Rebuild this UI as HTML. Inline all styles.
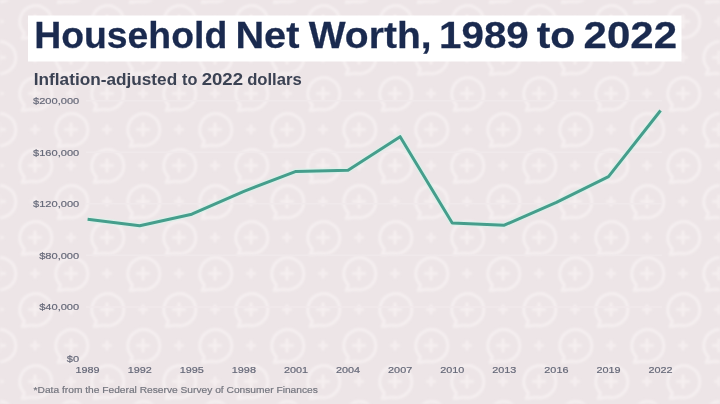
<!DOCTYPE html>
<html><head><meta charset="utf-8">
<style>
html,body{margin:0;padding:0;}
body{width:720px;height:404px;overflow:hidden;background:#ede5e7;}
svg{position:absolute;left:0;top:0;will-change:transform;font-family:"Liberation Sans",sans-serif;}
</style></head><body>
<svg width="720" height="404" viewBox="0 0 720 404">
<defs>
  <filter id="blur" x="-5%" y="-5%" width="110%" height="110%"><feGaussianBlur stdDeviation="1.3"/></filter>
  <g id="bub" fill="none" stroke="#f5eff0" stroke-width="3">
    <path d="M-10.5,11.5 A16,16 0 1 1 -3,15.7 L-13,17 Z" stroke-linejoin="round"/>
    <path d="M0,-7 V7 M-7,0 H7" stroke-width="3"/>
  </g>
  <g id="pl" stroke="#f5eff0" stroke-width="2.5">
    <path d="M0,-5 V5 M-5,0 H5"/>
  </g>
  <pattern id="pat" x="-1" y="21.5" width="72" height="72" patternUnits="userSpaceOnUse">
    <use href="#bub" x="36" y="0"/><use href="#bub" x="36" y="72"/>
    <use href="#pl" x="0" y="0"/><use href="#pl" x="72" y="0"/><use href="#pl" x="0" y="72"/><use href="#pl" x="72" y="72"/>
    <use href="#bub" x="0" y="36"/><use href="#bub" x="72" y="36"/>
    <use href="#pl" x="36" y="36"/>
  </pattern>
</defs>
<rect width="720" height="404" fill="url(#pat)" filter="url(#blur)"/>
<g stroke="#f0e9eb" stroke-width="1.5">
<line x1="86" y1="100.75" x2="662" y2="100.75"/>
<line x1="86" y1="152.29" x2="662" y2="152.29"/>
<line x1="86" y1="203.83" x2="662" y2="203.83"/>
<line x1="86" y1="255.37" x2="662" y2="255.37"/>
<line x1="86" y1="306.91" x2="662" y2="306.91"/>
</g>
<polyline fill="none" stroke="#d9f2ea" stroke-opacity="0.7" stroke-width="6" stroke-linejoin="round" points="87.60,219.2 139.69,225.8 191.78,214.2 243.87,191.3 295.96,171.4 348.05,170.2 400.14,136.7 452.23,223.1 504.32,225.2 556.41,202.3 608.50,176.6 660.59,110.5"/>
<polyline fill="none" stroke="#459e8c" stroke-width="3" stroke-linejoin="round" points="87.60,219.2 139.69,225.8 191.78,214.2 243.87,191.3 295.96,171.4 348.05,170.2 400.14,136.7 452.23,223.1 504.32,225.2 556.41,202.3 608.50,176.6 660.59,110.5"/>
<rect x="28" y="15.5" width="653.5" height="46" fill="#ffffff"/>
<text transform="translate(34.18,47.5) scale(1.0102,1)" font-size="37" font-weight="bold" fill="#1a2a4f" stroke="#1a2a4f" stroke-width="0.25">Household</text>
<text transform="translate(235.42,47.5) scale(1.0740,1)" font-size="37" font-weight="bold" fill="#1a2a4f" stroke="#1a2a4f" stroke-width="0.25">Net</text>
<text transform="translate(308.70,47.5) scale(1.0556,1)" font-size="37" font-weight="bold" fill="#1a2a4f" stroke="#1a2a4f" stroke-width="0.25">Worth,</text>
<text transform="translate(439.08,47.5) scale(1.0900,1)" font-size="37" font-weight="bold" fill="#1a2a4f" stroke="#1a2a4f" stroke-width="0.25">1989</text>
<text transform="translate(536.69,47.5) scale(1.1054,1)" font-size="37" font-weight="bold" fill="#1a2a4f" stroke="#1a2a4f" stroke-width="0.25">to</text>
<text transform="translate(583.54,47.5) scale(1.1364,1)" font-size="37" font-weight="bold" fill="#1a2a4f" stroke="#1a2a4f" stroke-width="0.25">2022</text>
<text transform="translate(33.80,84.6) scale(1.0755,1)" font-size="16" font-weight="bold" fill="#3b4253">Inflation-adjusted</text>
<text transform="translate(182.04,84.6) scale(1.0183,1)" font-size="16" font-weight="bold" fill="#3b4253">to</text>
<text transform="translate(201.64,84.6) scale(1.1628,1)" font-size="16" font-weight="bold" fill="#3b4253">2022</text>
<text transform="translate(247.13,84.6) scale(1.0430,1)" font-size="16" font-weight="bold" fill="#3b4253">dollars</text>
<text transform="translate(79.2,104.20) scale(1.12,1)" text-anchor="end" font-size="9.9" fill="#656878" stroke="#656878" stroke-width="0.2">$200,000</text>
<text transform="translate(79.2,155.74) scale(1.12,1)" text-anchor="end" font-size="9.9" fill="#656878" stroke="#656878" stroke-width="0.2">$160,000</text>
<text transform="translate(79.2,207.28) scale(1.12,1)" text-anchor="end" font-size="9.9" fill="#656878" stroke="#656878" stroke-width="0.2">$120,000</text>
<text transform="translate(79.2,258.82) scale(1.12,1)" text-anchor="end" font-size="9.9" fill="#656878" stroke="#656878" stroke-width="0.2">$80,000</text>
<text transform="translate(79.2,310.36) scale(1.12,1)" text-anchor="end" font-size="9.9" fill="#656878" stroke="#656878" stroke-width="0.2">$40,000</text>
<text transform="translate(79.2,361.90) scale(1.12,1)" text-anchor="end" font-size="9.9" fill="#656878" stroke="#656878" stroke-width="0.2">$0</text>
<text transform="translate(87.60,373) scale(1.096,1)" text-anchor="middle" font-size="9.9" fill="#656878" stroke="#656878" stroke-width="0.2">1989</text>
<text transform="translate(139.69,373) scale(1.096,1)" text-anchor="middle" font-size="9.9" fill="#656878" stroke="#656878" stroke-width="0.2">1992</text>
<text transform="translate(191.78,373) scale(1.096,1)" text-anchor="middle" font-size="9.9" fill="#656878" stroke="#656878" stroke-width="0.2">1995</text>
<text transform="translate(243.87,373) scale(1.096,1)" text-anchor="middle" font-size="9.9" fill="#656878" stroke="#656878" stroke-width="0.2">1998</text>
<text transform="translate(295.96,373) scale(1.096,1)" text-anchor="middle" font-size="9.9" fill="#656878" stroke="#656878" stroke-width="0.2">2001</text>
<text transform="translate(348.05,373) scale(1.096,1)" text-anchor="middle" font-size="9.9" fill="#656878" stroke="#656878" stroke-width="0.2">2004</text>
<text transform="translate(400.14,373) scale(1.096,1)" text-anchor="middle" font-size="9.9" fill="#656878" stroke="#656878" stroke-width="0.2">2007</text>
<text transform="translate(452.23,373) scale(1.096,1)" text-anchor="middle" font-size="9.9" fill="#656878" stroke="#656878" stroke-width="0.2">2010</text>
<text transform="translate(504.32,373) scale(1.096,1)" text-anchor="middle" font-size="9.9" fill="#656878" stroke="#656878" stroke-width="0.2">2013</text>
<text transform="translate(556.41,373) scale(1.096,1)" text-anchor="middle" font-size="9.9" fill="#656878" stroke="#656878" stroke-width="0.2">2016</text>
<text transform="translate(608.50,373) scale(1.096,1)" text-anchor="middle" font-size="9.9" fill="#656878" stroke="#656878" stroke-width="0.2">2019</text>
<text transform="translate(660.59,373) scale(1.096,1)" text-anchor="middle" font-size="9.9" fill="#656878" stroke="#656878" stroke-width="0.2">2022</text>
<text transform="translate(33.6,392.9) scale(1.064,1)" font-size="9.6" fill="#74767f" stroke="#74767f" stroke-width="0.2">*Data from the Federal Reserve Survey of Consumer Finances</text>
</svg>
</body></html>
